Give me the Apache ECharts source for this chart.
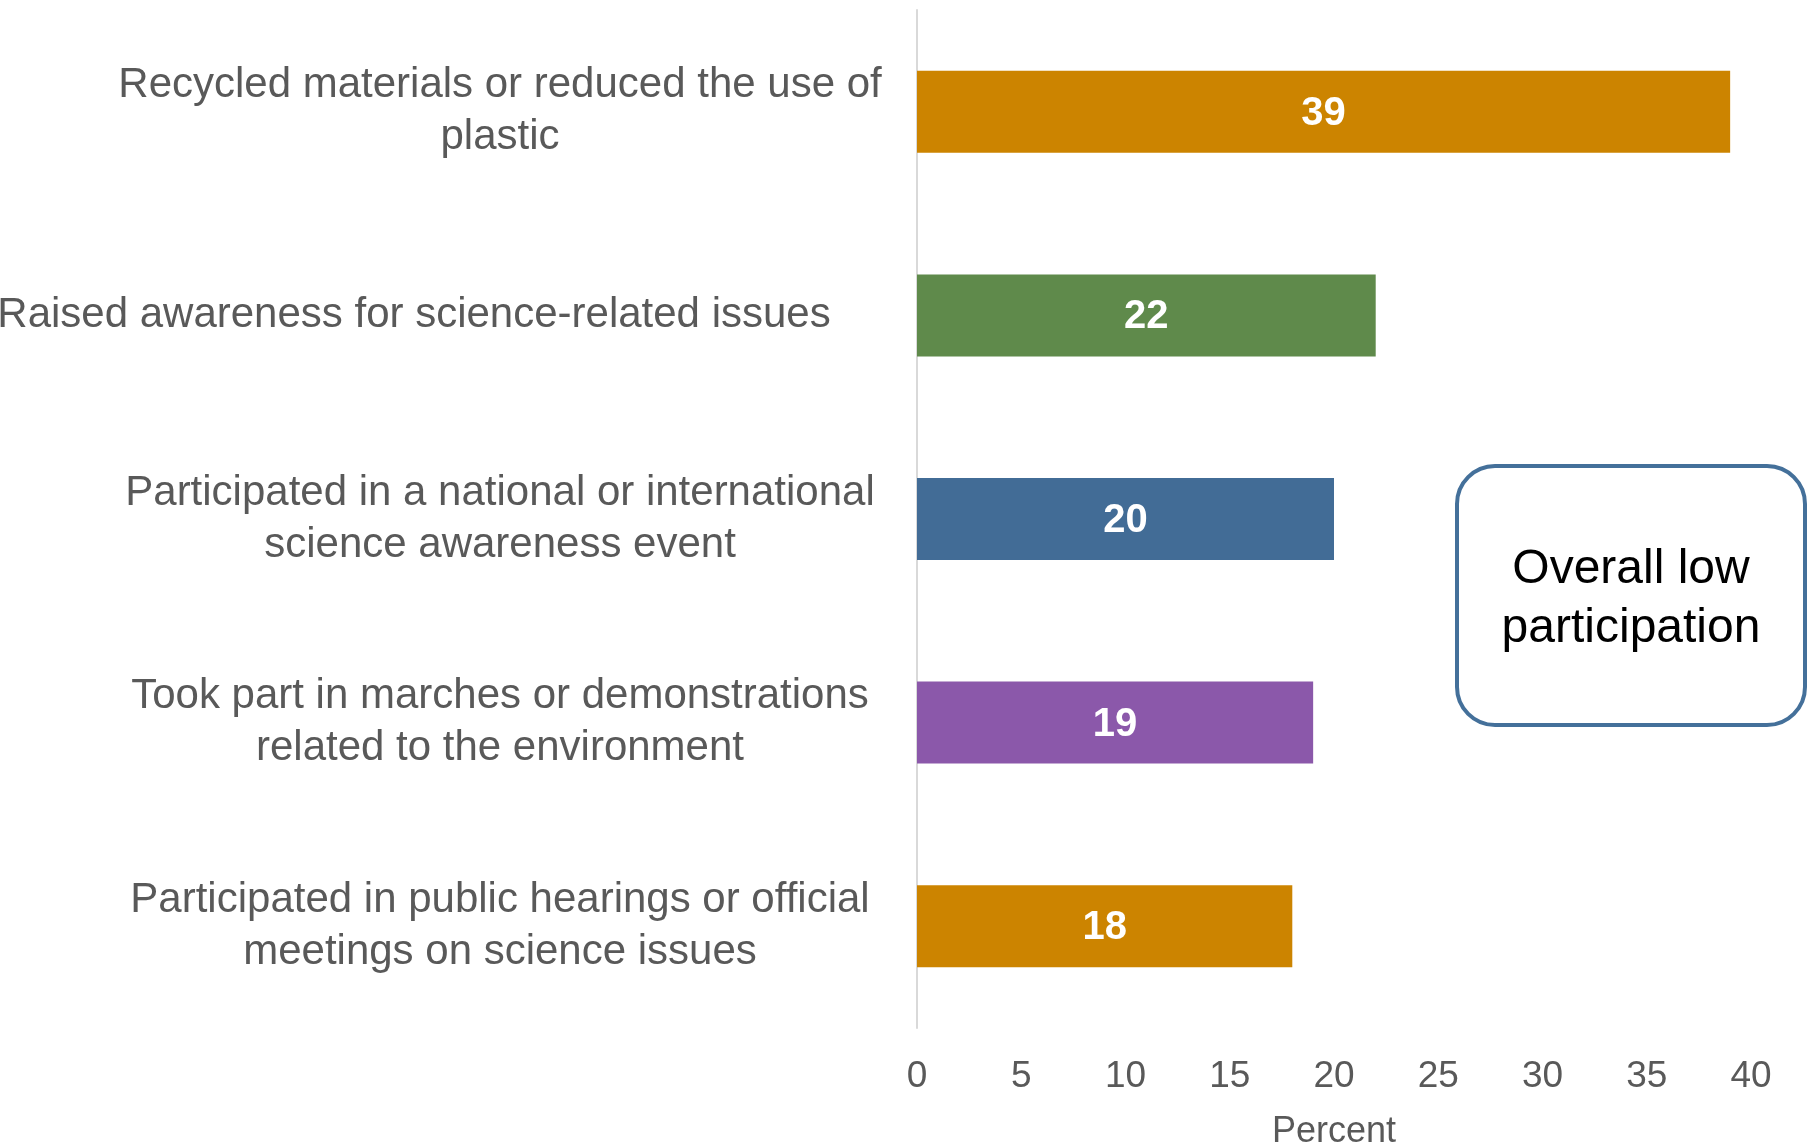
<!DOCTYPE html>
<html>
<head>
<meta charset="utf-8">
<script src="https://cdn.jsdelivr.net/npm/echarts@6/dist/echarts.min.js"></script>
<style>
  html, body { margin: 0; padding: 0; background: #fff; }
  #chart { width: 1814px; height: 1143px; }
</style>
</head>
<body>
<div id="chart"></div>
<script>
// data
var categories = [
    'Recycled materials or reduced the use of\nplastic',
    'Raised awareness for science-related issues',
    'Participated in a national or international\nscience awareness event',
    'Took part in marches or demonstrations\nrelated to the environment',
    'Participated in public hearings or official\nmeetings on science issues'
];
var values = [39, 22, 20, 19, 18];
var xTicks = [0, 40, 5]; // min, max, step

var barColors = ['#cc8400', '#5f8a4b', '#426c96', '#8b58aa', '#cc8400'];
var font = '"Liberation Sans", Arial, sans-serif';

var dom = document.getElementById('chart');
var myChart = echarts.init(dom);

var option = {
    animation: false,
    backgroundColor: '#ffffff',
    grid: {
        left: 917,
        right: 63,
        top: 10,
        bottom: 115,
        containLabel: false,
        outerBoundsMode: 'none'
    },
    xAxis: {
        type: 'value',
        min: xTicks[0],
        max: xTicks[1],
        interval: xTicks[2],
        name: 'Percent',
        nameLocation: 'middle',
        nameGap: 86,
        nameTextStyle: { color: '#595959', fontSize: 36, fontFamily: font },
        axisLine: { show: false },
        axisTick: { show: false },
        splitLine: { show: false },
        axisLabel: {
            color: '#595959',
            fontSize: 37,
            fontFamily: font,
            margin: 30
        }
    },
    yAxis: {
        type: 'category',
        inverse: true,
        data: categories,
        axisLine: { show: true, lineStyle: { color: '#d9d9d9', width: 2 } },
        axisTick: { show: false },
        splitLine: { show: false },
        axisLabel: {
            align: 'center',
            margin: 417,
            color: '#595959',
            fontSize: 42,
            lineHeight: 52,
            fontFamily: font,
            formatter: function (val, idx) {
                if (idx === 1) return '{shift|' + val + '}';
                return val;
            },
            rich: {
                shift: {
                    color: '#595959',
                    fontSize: 42,
                    fontFamily: font,
                    padding: [0, 172, 0, 0]
                }
            }
        }
    },
    series: [{
        type: 'bar',
        barWidth: 82,
        data: values.map(function (v, i) {
            return { value: v, itemStyle: { color: barColors[i] } };
        }),
        label: {
            show: true,
            position: 'inside',
            offset: [0, 2],
            color: '#ffffff',
            fontWeight: 'bold',
            fontSize: 40,
            fontFamily: font
        }
    }],
    graphic: [{
        type: 'group',
        left: 1455,
        top: 464,
        children: [{
            type: 'rect',
            shape: { x: 0, y: 0, width: 348, height: 259, r: 38 },
            style: { fill: '#ffffff', stroke: '#44709a', lineWidth: 4 }
        }, {
            type: 'text',
            x: 174,
            y: 133,
            style: {
                text: 'Overall low\nparticipation',
                fill: '#000000',
                font: '48px ' + font,
                lineHeight: 59,
                align: 'center',
                verticalAlign: 'middle'
            }
        }]
    }]
};

myChart.setOption(option);
</script>
</body>
</html>
